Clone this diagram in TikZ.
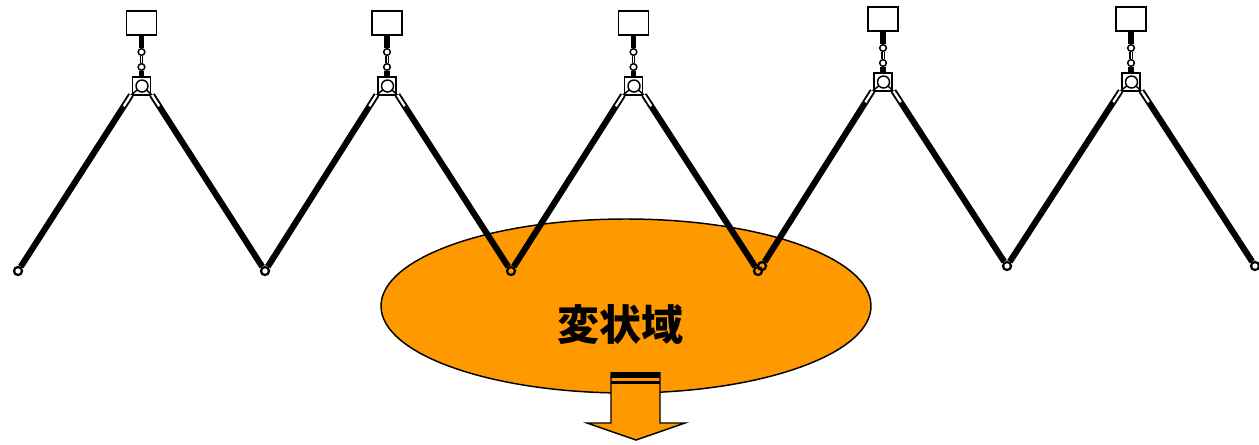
\documentclass[tikz,border=0pt]{standalone}
\usepackage{fontspec}
\newfontfamily\cjk{Noto Sans CJK JP}
\usetikzlibrary{calc,shapes.geometric}
\definecolor{zoneorange}{HTML}{FF9900}
\tikzset{
  hangbox/.style={rectangle, draw, line width=1.1pt, fill=white, minimum width=22.5pt, minimum height=18pt, inner sep=0pt},
  hangbase/.style={rectangle, draw, line width=1.1pt, fill=white, minimum size=13.5pt, inner sep=0pt},
  pinnode/.style={circle, draw, line width=1.1pt, fill=white, minimum size=#1, inner sep=0pt},
  footnode/.style={circle, draw, line width=1.7pt, fill=none, minimum size=6pt, inner sep=0pt},
  thickbar/.style={line width=3.8pt},
  legbar/.style={line width=4.6pt},
  sleeve/.style={line width=1pt, double=white, double distance=1.7pt}
}
\newcommand{\hanger}[2]{
    % Base and pivot
    \node[hangbase] (#2 base) at ($ (#1) + (-.5,0) $) {};
    \coordinate (#2 west) at ($ (#1) + (-11,9) $);
    \coordinate (#2 east) at ($ (#1) + (10,9) $);
    \coordinate (#2 centre) at (#1);
    \draw[line width=1.1pt] (#2 west) -- (#2 centre) -- (#2 east);
    \node[pinnode=9pt] (#2 pivot) at (#1) {};

    % Top box and chain
    \node[hangbox] (#2 box) at ($ (#1) + (-.5,-63) $) {};
    \node[pinnode=5pt] (#2 upper) at ($ (#1) + (-.5,-34) $) {};
    \node[pinnode=5pt] (#2 lower) at ($ (#1) + (-.5,-19) $) {};
    \draw[thickbar] (#2 box) -- (#2 upper);
    \draw[thickbar] (#2 lower) -- (#2 base);
    \draw[line width=.8pt, double=white, double distance=.7pt] (#2 upper) -- (#2 lower);
}
\newcommand{\leg}[2]{
    \draw[legbar] (#1) -- (#2);
    \draw[sleeve] (#1) -- ($ (#1)!10pt!(#2) $);
}
\begin{document}
\begin{tikzpicture}[x=.75pt, y=-.75pt]
    \useasboundingbox (0,0) rectangle (1259,444);

    % Deformed zone
    \node[ellipse, draw, line width=1.1pt, fill=zoneorange, minimum width=367.5pt, minimum height=130.5pt, inner sep=0pt] (zone) at (626,306) {};
    \node[inner sep=0pt] (zonelabel) at (620.5,325) {\cjk\bfseries\fontsize{31.5}{31.5}\selectfont 変状域};

    % Arrow below the zone
    \draw[line width=1.1pt, fill=zoneorange, line join=miter]
        (611,373) -- (660,373) -- (660,423) -- (685,423) -- (636,440) -- (587,423) -- (611,423) -- cycle;
    \fill (611,372) rectangle (660,377.5);
    \fill (611,381) rectangle (660,384);

    % Feet
    \node[footnode] (foot0) at (18,271) {};
    \node[footnode] (foot1) at (265,271) {};
    \node[footnode] (foot2) at (511,271) {};
    \node[footnode] (foot3) at (758,271) {};
    \node[footnode] (foot4) at (762,266) {};
    \node[footnode] (foot5) at (1007,266) {};
    \node[footnode] (foot6) at (1255,266) {};

    % Hangers
    \hanger{142,86}{hanger0}
    \hanger{387.5,86}{hanger1}
    \hanger{634,86}{hanger2}
    \hanger{883.5,82}{hanger3}
    \hanger{1131.5,82}{hanger4}

    % Legs
    \leg{hanger0 west}{foot0}
    \leg{hanger0 east}{foot1}
    \leg{hanger1 west}{foot1}
    \leg{hanger1 east}{foot2}
    \leg{hanger2 west}{foot2}
    \leg{hanger2 east}{foot3}
    \leg{hanger3 west}{foot4}
    \leg{hanger3 east}{foot5}
    \leg{hanger4 west}{foot5}
    \leg{hanger4 east}{foot6}
\end{tikzpicture}
\end{document}
